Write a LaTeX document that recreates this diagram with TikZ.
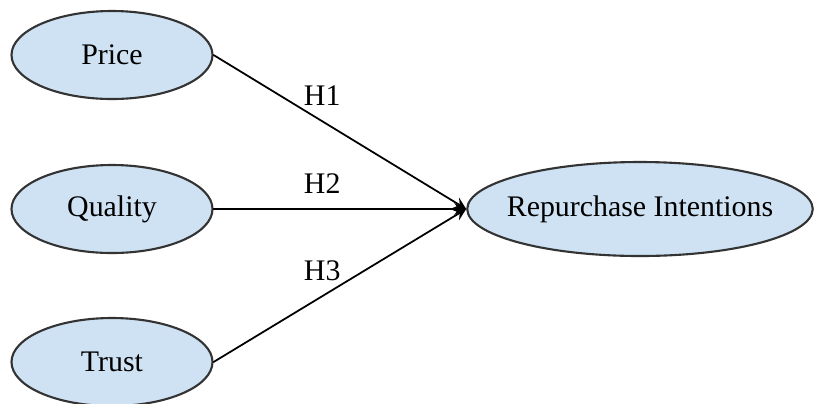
\documentclass[tikz,border=0pt]{standalone}
\usepackage{fontspec}
\setmainfont{Liberation Serif}
\usetikzlibrary{shapes.geometric}
\definecolor{lightblue}{HTML}{CFE2F3}
\begin{document}
\begin{tikzpicture}[line join=round, line cap=round,>=stealth]
			\tikzset{every node/.style={font=\fontsize{8.5pt}{10pt}\selectfont},
				var/.style={ellipse, draw=black!80, fill=lightblue, line width=0.6pt, minimum width=2.01cm, minimum height=0.88cm, inner sep=0pt}}
			\useasboundingbox (0,0) rectangle (8.17,4.03);
			\node[var] (price) at (1.12,3.48) {Price};
			\node[var] (quality) at (1.12,1.94) {Quality};
			\node[var] (trust) at (1.12,0.41) {Trust};
			\node[var, inner xsep=-0.11cm, minimum height=0.94cm] (ri) at (6.40,1.94) {Repurchase Intentions};
			\foreach \src/\lab in {price/H1,quality/H2,trust/H3}
			\draw[->, line width=0.5pt] (\src.east) -- (ri.west) node[pos=0.43, above=0.3mm] {\lab};
		\end{tikzpicture}
\end{document}
